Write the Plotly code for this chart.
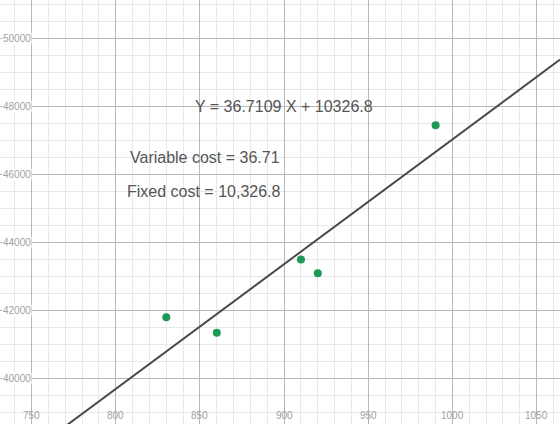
import numpy as np
import plotly.graph_objects as go

# Data
units = [830, 860, 910, 920, 990]
costs = [41800, 41350, 43500, 43100, 47450]
slope = 36.7109
intercept = 10326.8
x_ticks = [750, 800, 850, 900, 950, 1000, 1050]
y_ticks = [40000, 42000, 44000, 46000, 48000, 50000]
labels = ["Y = 36.7109 X + 10326.8", "Variable cost = 36.71", "Fixed cost = 10,326.8"]
label_x = [900, 853, 852.5]
label_y = [48000, 46490, 45490]

x_range = [731.2, 1063.9]
y_range = [38662, 51138]

fig = go.Figure()

line_x = np.array(x_range)
fig.add_trace(go.Scatter(x=line_x, y=slope * line_x + intercept, mode="lines",
                         line=dict(color="#4a4a4a", width=2), hoverinfo="skip"))
fig.add_trace(go.Scatter(x=units, y=costs, mode="markers",
                         marker=dict(color="#1a9a52", size=8)))

annots = []
for t, x, y in zip(labels, label_x, label_y):
    annots.append(dict(x=x, y=y, xref="x", yref="y", text=t, showarrow=False,
                       font=dict(family="Liberation Sans, Arial", size=16, color="#555555"),
                       xanchor="center", yanchor="middle"))
for v in x_ticks:
    annots.append(dict(x=v, y=0, xref="x", yref="paper", text=str(v), showarrow=False,
                       font=dict(family="Liberation Sans, Arial", size=10, color="#a0a0a0"),
                       xanchor="center", yanchor="bottom", yshift=1))
for v in y_ticks:
    annots.append(dict(x=0, y=v, xref="paper", yref="y", text=str(v), showarrow=False,
                       font=dict(family="Liberation Sans, Arial", size=10, color="#a0a0a0"),
                       xanchor="left", yanchor="middle", xshift=2,
                       bgcolor="white", borderpad=0))

fig.update_layout(
    width=560, height=424, margin=dict(l=0, r=0, t=0, b=0),
    plot_bgcolor="white", paper_bgcolor="white", showlegend=False,
    annotations=annots,
    xaxis=dict(range=x_range, dtick=50, tick0=0, showgrid=True, gridcolor="#b8b8b8",
               gridwidth=1, showticklabels=False, zeroline=False, showline=False,
               minor=dict(dtick=10, tick0=0, showgrid=True, gridcolor="#e8e8e8", gridwidth=1)),
    yaxis=dict(range=y_range, dtick=2000, tick0=0, showgrid=True, gridcolor="#b8b8b8",
               gridwidth=1, showticklabels=False, zeroline=False, showline=False,
               minor=dict(dtick=500, tick0=0, showgrid=True, gridcolor="#e8e8e8", gridwidth=1)),
)

fig.write_html("out.html")
